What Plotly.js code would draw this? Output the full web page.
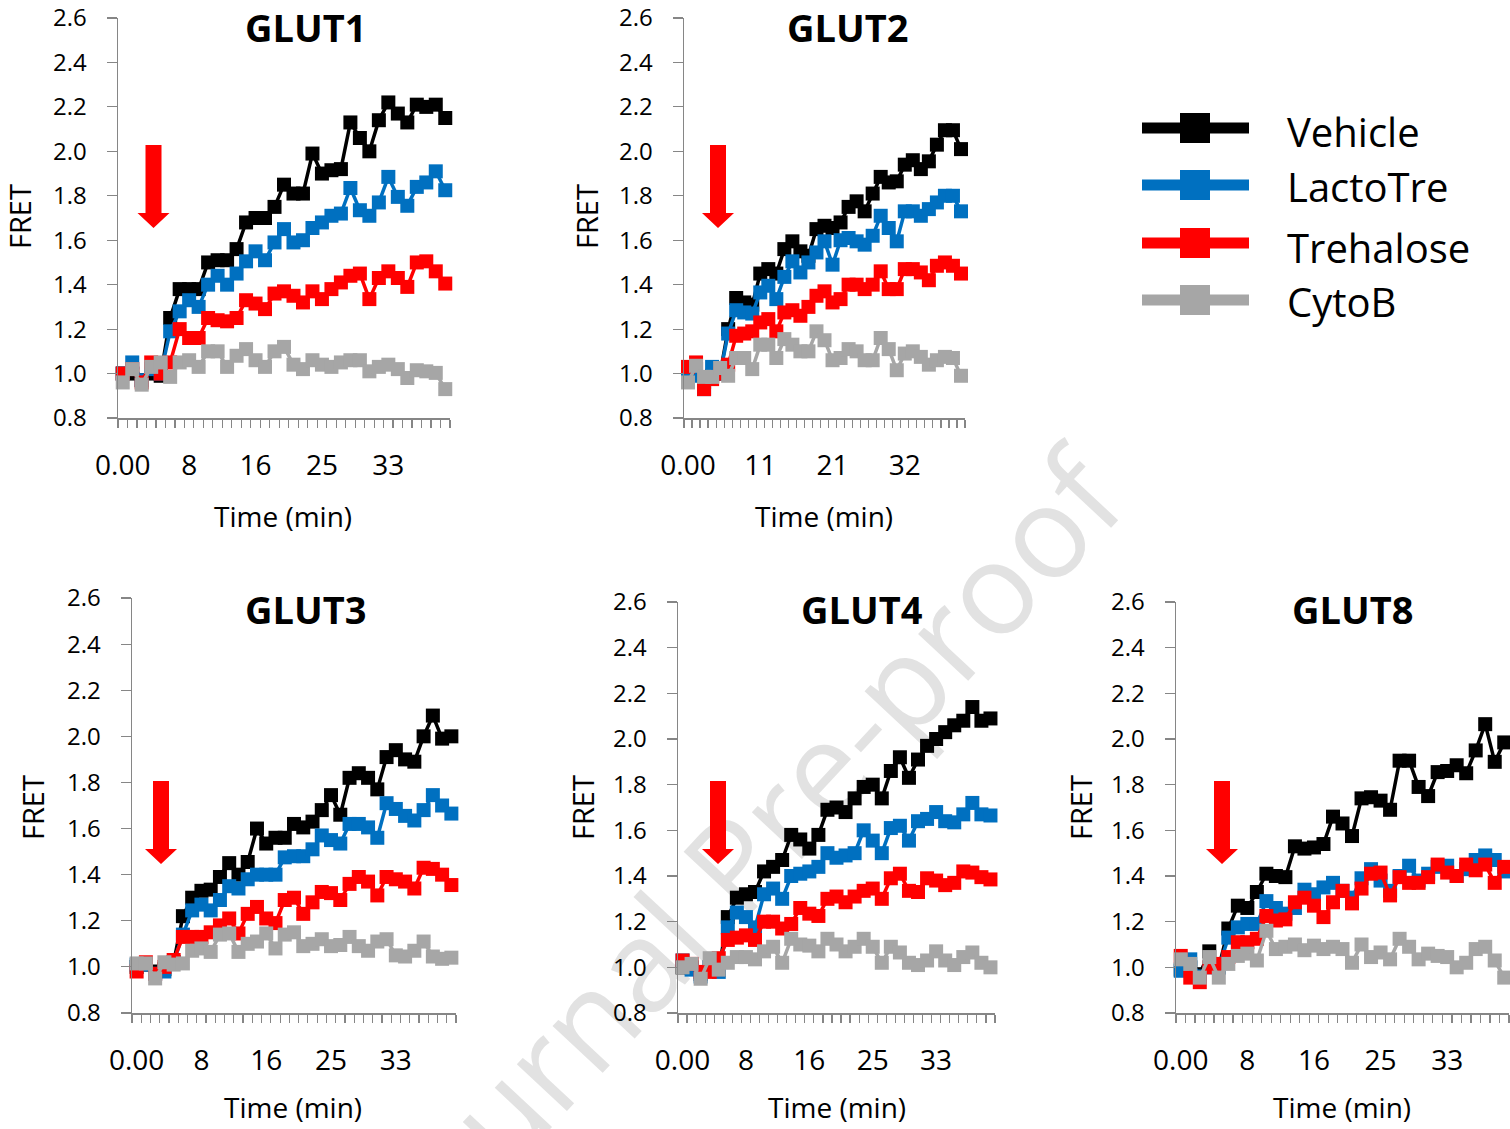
<!DOCTYPE html>
<html>
<head>
<meta charset="utf-8">
<script src="https://cdn.plot.ly/plotly-3.0.1.min.js"></script>
<style>
  body { margin: 0; background: #ffffff; }
  #wm, #chart { position: absolute; left: 0; top: 0; width: 1510px; height: 1129px; }
</style>
</head>
<body>
<div id="wm"></div>
<div id="chart"></div>
<script>
// ---------------- DATA ----------------
const seriesNames  = ['Vehicle', 'LactoTre', 'Trehalose', 'CytoB'];
const seriesColors = ['#000000', '#0070C0', '#FF0000', '#A6A6A6'];
const panelTitles  = ['GLUT1', 'GLUT2', 'GLUT3', 'GLUT4', 'GLUT8'];

const tickLabelsA = ['0.00', '8', '16', '25', '33'];
const tickIndexA  = [0, 7, 14, 21, 28];
const tickLabelsB = ['0.00', '11', '21', '32'];
const tickIndexB  = [0, 9, 18, 27];
const yTickValues = [0.8, 1.0, 1.2, 1.4, 1.6, 1.8, 2.0, 2.2, 2.4, 2.6];

const glut1Vehicle   = [1.00,1.00,0.97,1.00,0.99, 1.25,1.38,1.38,1.38,1.50, 1.51,1.51,1.56,1.68,1.70, 1.70,1.75,1.85,1.81,1.81, 1.99,1.90,1.915,1.92,2.13, 2.06,2.00,2.14,2.22,2.17, 2.13,2.21,2.20,2.21,2.15];
const glut1LactoTre  = [1.00,1.05,0.97,1.02,1.00, 1.19,1.28,1.33,1.30,1.40, 1.44,1.40,1.45,1.505,1.55, 1.51,1.59,1.65,1.59,1.60, 1.655,1.68,1.71,1.72,1.835, 1.735,1.71,1.77,1.885,1.795, 1.755,1.84,1.86,1.91,1.825];
const glut1Trehalose = [1.00,1.02,0.96,1.05,1.00, 1.05,1.20,1.16,1.16,1.25, 1.24,1.235,1.25,1.33,1.315, 1.29,1.36,1.37,1.35,1.32, 1.37,1.335,1.38,1.41,1.44, 1.45,1.335,1.43,1.46,1.43, 1.39,1.50,1.505,1.46,1.405];
const glut1CytoB     = [0.96,1.02,0.95,1.03,1.05, 0.985,1.05,1.06,1.03,1.10, 1.10,1.03,1.08,1.11,1.06, 1.03,1.10,1.12,1.04,1.02, 1.06,1.04,1.03,1.05,1.06, 1.06,1.01,1.03,1.04,1.02, 0.98,1.015,1.01,1.003,0.93];

const glut2Vehicle   = [1.00,1.02,0.96,0.99,1.00, 1.20,1.34,1.32,1.31,1.45, 1.47,1.45,1.56,1.595,1.55, 1.53,1.65,1.665,1.655,1.68, 1.75,1.775,1.73,1.81,1.885, 1.86,1.865,1.94,1.96,1.92, 1.955,2.03,2.095,2.095,2.01];
const glut2LactoTre  = [1.00,0.99,0.93,1.03,1.00, 1.18,1.285,1.275,1.27,1.365, 1.395,1.335,1.435,1.505,1.455, 1.50,1.545,1.595,1.49,1.60, 1.61,1.595,1.58,1.62,1.71, 1.655,1.595,1.73,1.73,1.71, 1.74,1.77,1.80,1.80,1.73];
const glut2Trehalose = [1.03,1.05,0.93,0.975,1.00, 1.04,1.17,1.18,1.19,1.23, 1.245,1.19,1.275,1.285,1.26, 1.30,1.35,1.37,1.32,1.335, 1.40,1.40,1.38,1.40,1.46, 1.38,1.38,1.47,1.47,1.455, 1.42,1.485,1.50,1.485,1.45];
const glut2CytoB     = [0.96,1.035,0.985,0.985,1.025, 0.99,1.07,1.07,1.02,1.13, 1.13,1.07,1.155,1.13,1.10, 1.10,1.19,1.15,1.06,1.07, 1.11,1.10,1.06,1.06,1.16, 1.11,1.015,1.09,1.10,1.075, 1.04,1.06,1.075,1.07,0.99];

const glut3Vehicle   = [1.00,1.01,0.98,0.99,1.02, 1.22,1.30,1.33,1.335,1.39, 1.45,1.40,1.455,1.60,1.535, 1.56,1.56,1.62,1.605,1.63, 1.68,1.745,1.66,1.82,1.84, 1.82,1.77,1.91,1.94,1.90, 1.89,2.00,2.09,1.99,2.00];
const glut3LactoTre  = [1.01,1.01,0.97,0.98,1.02, 1.14,1.245,1.27,1.245,1.29, 1.35,1.34,1.38,1.40,1.40, 1.40,1.475,1.48,1.48,1.51, 1.57,1.55,1.535,1.62,1.62, 1.605,1.56,1.71,1.685,1.655, 1.635,1.68,1.745,1.70,1.665];
const glut3Trehalose = [0.98,1.02,0.97,1.00,1.03, 1.13,1.13,1.13,1.15,1.18, 1.21,1.145,1.23,1.26,1.21, 1.19,1.29,1.30,1.23,1.28, 1.325,1.32,1.29,1.36,1.39, 1.37,1.31,1.39,1.38,1.37, 1.34,1.43,1.425,1.40,1.355];
const glut3CytoB     = [1.015,1.015,0.95,1.02,1.01, 1.015,1.07,1.08,1.065,1.14, 1.145,1.065,1.10,1.11,1.145, 1.08,1.14,1.15,1.09,1.10, 1.12,1.09,1.095,1.13,1.09, 1.07,1.11,1.12,1.05,1.045, 1.07,1.11,1.045,1.035,1.04];

const glut4Vehicle   = [1.00,1.00,0.97,1.00,0.99, 1.22,1.305,1.32,1.33,1.42, 1.44,1.47,1.58,1.56,1.52, 1.58,1.69,1.70,1.68,1.74, 1.79,1.80,1.74,1.86,1.92, 1.83,1.91,1.97,2.00,2.03, 2.06,2.08,2.14,2.08,2.09];
const glut4LactoTre  = [1.03,0.99,0.96,1.00,0.98, 1.175,1.24,1.22,1.175,1.32, 1.345,1.30,1.40,1.41,1.42, 1.44,1.50,1.48,1.49,1.50, 1.60,1.555,1.50,1.61,1.62, 1.555,1.64,1.65,1.68,1.64, 1.635,1.67,1.72,1.67,1.665];
const glut4Trehalose = [1.03,1.015,0.98,0.98,1.04, 1.12,1.13,1.14,1.12,1.20, 1.20,1.17,1.19,1.26,1.235, 1.225,1.30,1.31,1.285,1.31, 1.335,1.345,1.30,1.39,1.41, 1.335,1.33,1.39,1.38,1.36, 1.37,1.42,1.415,1.395,1.385];
const glut4CytoB     = [1.00,1.015,0.95,1.04,0.99, 1.02,1.045,1.045,1.035,1.07, 1.09,1.02,1.125,1.10,1.095, 1.07,1.125,1.10,1.07,1.09, 1.125,1.09,1.02,1.09,1.065, 1.02,1.01,1.03,1.07,1.03, 1.01,1.045,1.065,1.02,1.00];

const glut8Vehicle   = [0.99,1.00,0.97,1.07,1.00, 1.17,1.27,1.26,1.33,1.41, 1.40,1.395,1.53,1.52,1.525, 1.54,1.66,1.63,1.575,1.74, 1.745,1.73,1.69,1.905,1.905, 1.79,1.75,1.855,1.86,1.885, 1.85,1.95,2.065,1.90,1.985];
const glut8LactoTre  = [0.985,1.035,0.96,1.00,1.00, 1.13,1.175,1.19,1.19,1.29, 1.26,1.235,1.26,1.34,1.32, 1.35,1.37,1.335,1.305,1.39, 1.43,1.38,1.335,1.40,1.445, 1.38,1.41,1.44,1.445,1.40, 1.43,1.47,1.49,1.47,1.42];
const glut8Trehalose = [1.05,0.955,0.935,1.00,1.015, 1.045,1.11,1.11,1.125,1.225, 1.205,1.21,1.285,1.305,1.27, 1.22,1.285,1.335,1.28,1.345, 1.41,1.415,1.315,1.395,1.37, 1.37,1.395,1.45,1.415,1.40, 1.45,1.425,1.45,1.37,1.44];
const glut8CytoB     = [1.035,1.015,0.955,1.045,0.955, 1.015,1.05,1.06,1.03,1.16, 1.08,1.09,1.10,1.075,1.095, 1.08,1.09,1.08,1.02,1.10, 1.045,1.065,1.035,1.125,1.09, 1.035,1.06,1.05,1.045,1.00, 1.02,1.08,1.09,1.03,0.955];

const panelSeries = [
  [glut1Vehicle, glut1LactoTre, glut1Trehalose, glut1CytoB],
  [glut2Vehicle, glut2LactoTre, glut2Trehalose, glut2CytoB],
  [glut3Vehicle, glut3LactoTre, glut3Trehalose, glut3CytoB],
  [glut4Vehicle, glut4LactoTre, glut4Trehalose, glut4CytoB],
  [glut8Vehicle, glut8LactoTre, glut8Trehalose, glut8CytoB]
];
const panelTicks = [
  [tickIndexA, tickLabelsA], [tickIndexB, tickLabelsB],
  [tickIndexA, tickLabelsA], [tickIndexA, tickLabelsA], [tickIndexA, tickLabelsA]
];

// ---------------- LAYOUT (pixel geometry) ----------------
const W = 1510, H = 1129;
const px = v => v / W;
const py = v => 1 - v / H;
const FONT = 'Open Sans, Noto Sans, sans-serif';
const AXC = '#868686';

const panels = [
  { l: 118,  r: 450,  t: 18,  b: 418,  title: [305, 22],  fret: [20, 217],  time: [283, 516],  arrow: 153.5, arrowTop: 145 },
  { l: 684,  r: 965,  t: 18,  b: 418,  title: [847, 22],  fret: [587, 217], time: [824, 516],  arrow: 718,   arrowTop: 145 },
  { l: 132,  r: 456,  t: 598, b: 1013, title: [305, 609], fret: [32, 808],  time: [293, 1107], arrow: 161,   arrowTop: 781 },
  { l: 678,  r: 995,  t: 602, b: 1013, title: [862, 609], fret: [582, 808], time: [837, 1107], arrow: 718,   arrowTop: 781 },
  { l: 1176, r: 1509, t: 602, b: 1013, title: [1352, 609],fret: [1080, 808],time: [1342, 1107],arrow: 1222,  arrowTop: 781 }
];

const traces = [];
const layout = {
  width: W, height: H,
  margin: { l: 0, r: 0, t: 0, b: 0, pad: 0 },
  paper_bgcolor: 'rgba(0,0,0,0)',
  plot_bgcolor: 'rgba(0,0,0,0)',
  showlegend: false,
  font: { family: FONT, color: '#000000' },
  annotations: [],
  shapes: []
};

panels.forEach((p, k) => {
  const sfx = k === 0 ? '' : String(k + 1);
  const series = panelSeries[k];
  const n = series[0].length;
  const idx = series[0].map((_, i) => i);
  const bounds = [];
  for (let i = 0; i <= n; i++) bounds.push(i - 0.5);

  series.forEach((vals, s) => {
    traces.push({
      type: 'scatter', mode: 'lines+markers',
      name: seriesNames[s],
      x: idx, y: vals,
      xaxis: 'x' + sfx, yaxis: 'y' + sfx,
      line: { color: seriesColors[s], width: 3.5 },
      marker: { symbol: 'square', size: 14, color: seriesColors[s], line: { width: 0 } },
      cliponaxis: false, showlegend: false, hoverinfo: 'skip'
    });
  });

  layout['xaxis' + sfx] = {
    domain: [px(p.l), px(p.r)], anchor: 'y' + sfx,
    range: [-0.5, n - 0.5], fixedrange: true,
    tickmode: 'array', tickvals: panelTicks[k][0], ticktext: panelTicks[k][1],
    ticks: '', ticklabelstandoff: 22, ticklabeloverflow: 'allow',
    tickfont: { family: FONT, size: 28, color: '#000' },
    showline: true, linecolor: AXC, linewidth: 1.5,
    showgrid: false, zeroline: false,
    minor: { tickmode: 'array', tickvals: bounds, ticks: 'outside', ticklen: 8, tickcolor: AXC, tickwidth: 1.2, showgrid: false }
  };
  layout['yaxis' + sfx] = {
    domain: [py(p.b), py(p.t)], anchor: 'x' + sfx,
    range: [0.8, 2.6], fixedrange: true,
    tickmode: 'array', tickvals: yTickValues, ticktext: yTickValues.map(v => v.toFixed(1)),
    ticks: 'outside', ticklen: 10, tickcolor: AXC, tickwidth: 1.2,
    ticklabelstandoff: 15, ticklabeloverflow: 'allow',
    tickfont: { family: FONT, size: 24, color: '#000' },
    showline: true, linecolor: AXC, linewidth: 1.5,
    showgrid: false, zeroline: false
  };

  const topRow = p.t < 100;
  layout.annotations.push({
    text: '<b>' + panelTitles[k] + '</b>', xref: 'paper', yref: 'paper',
    x: px(p.title[0]), y: topRow ? 1 : py(p.title[1]),
    xanchor: 'center', yanchor: topRow ? 'top' : 'middle',
    showarrow: false, borderpad: 0, font: { family: FONT, size: 38, color: '#000' }
  });
  layout.annotations.push({
    text: 'FRET', xref: 'paper', yref: 'paper', textangle: -90,
    x: px(p.fret[0]), y: py(p.fret[1]), xanchor: 'center', yanchor: 'middle',
    showarrow: false, font: { family: FONT, size: 29, color: '#000' }
  });
  layout.annotations.push({
    text: 'Time (min)', xref: 'paper', yref: 'paper',
    x: px(p.time[0]), y: py(p.time[1]), xanchor: 'center', yanchor: 'middle',
    showarrow: false, borderpad: 0, font: { family: FONT, size: 28, color: '#000' }
  });

  // red arrow (treatment marker)
  const c = p.arrow, top = p.arrowTop, hs = top + 68, tip = top + 83;
  const sw = 8, hw = 16;
  const path = 'M' + px(c - sw) + ',' + py(top) + ' L' + px(c + sw) + ',' + py(top) +
               ' L' + px(c + sw) + ',' + py(hs) + ' L' + px(c + hw) + ',' + py(hs) +
               ' L' + px(c) + ',' + py(tip) + ' L' + px(c - hw) + ',' + py(hs) +
               ' L' + px(c - sw) + ',' + py(hs) + ' Z';
  layout.shapes.push({ type: 'path', xref: 'paper', yref: 'paper', path: path,
                       fillcolor: '#FF0000', line: { width: 0 } });
});

// ---------------- LEGEND (drawn) ----------------
const legendRows = [128, 185, 243, 300];
const legendTextRows = [131, 186, 247, 301];
seriesNames.forEach((name, s) => {
  const y = legendRows[s];
  layout.shapes.push({ type: 'line', xref: 'paper', yref: 'paper',
    x0: px(1142), x1: px(1249), y0: py(y), y1: py(y),
    line: { color: seriesColors[s], width: 11 } });
  layout.shapes.push({ type: 'rect', xref: 'paper', yref: 'paper',
    x0: px(1180), x1: px(1210), y0: py(y - 15), y1: py(y + 15),
    fillcolor: seriesColors[s], line: { width: 0 } });
  layout.annotations.push({
    text: name, xref: 'paper', yref: 'paper',
    x: px(1285), y: py(legendTextRows[s]), xanchor: 'left', yanchor: 'middle',
    showarrow: false, font: { family: FONT, size: 40, color: '#000' }
  });
});

// ---------------- WATERMARK (behind) ----------------
Plotly.newPlot('wm', [], {
  width: W, height: H, margin: { l: 0, r: 0, t: 0, b: 0 },
  paper_bgcolor: '#ffffff', plot_bgcolor: '#ffffff',
  xaxis: { visible: false }, yaxis: { visible: false },
  annotations: [{
    text: 'Journal Pre-proof', xref: 'paper', yref: 'paper',
    x: px(742), y: py(850), xanchor: 'center', yanchor: 'middle',
    textangle: -47, showarrow: false,
    font: { family: FONT, size: 128, color: '#e2e2e2' }
  }]
}, { staticPlot: true, displayModeBar: false });

Plotly.newPlot('chart', traces, layout, { staticPlot: true, displayModeBar: false });
</script>
</body>
</html>
